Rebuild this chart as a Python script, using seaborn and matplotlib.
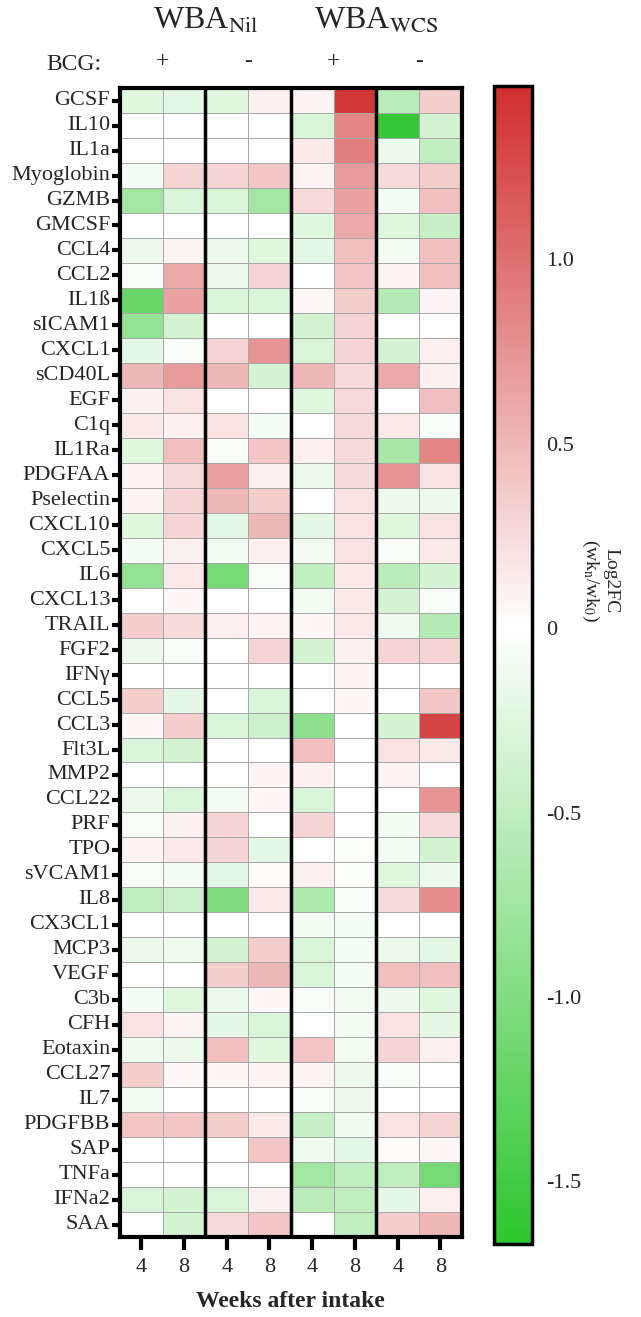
import numpy as np
import pandas as pd
import matplotlib
matplotlib.use("Agg")
import matplotlib.pyplot as plt
import matplotlib.transforms as mtransforms
from matplotlib.colors import LinearSegmentedColormap
import seaborn as sns

# analytes, top to bottom
analytes = ["GCSF", "IL10", "IL1a", "Myoglobin", "GZMB", "GMCSF", "CCL4", "CCL2", "IL1ß",
            "sICAM1", "CXCL1", "sCD40L", "EGF", "C1q", "IL1Ra", "PDGFAA", "Pselectin",
            "CXCL10", "CXCL5", "IL6", "CXCL13", "TRAIL", "FGF2", "IFNγ", "CCL5", "CCL3",
            "Flt3L", "MMP2", "CCL22", "PRF", "TPO", "sVCAM1", "IL8", "CX3CL1", "MCP3",
            "VEGF", "C3b", "CFH", "Eotaxin", "CCL27", "IL7", "PDGFBB", "SAP", "TNFa",
            "IFNa2", "SAA"]

weeks = ["4", "8", "4", "8", "4", "8", "4", "8"]
bcg = ["+", "-", "+", "-"]

# log2FC values per column
nil_pos_wk4 = [-0.25, 0, 0, -0.08, -0.75, 0, -0.15, -0.05, -1.2, -0.85, -0.2, 0.5, 0.12, 0.15,
               -0.25, 0.08, 0.08, -0.25, -0.08, -0.85, 0, 0.35, -0.15, 0, 0.35, 0.05, -0.3,
               -0.02, -0.15, -0.05, 0.08, -0.05, -0.5, 0, -0.15, 0, -0.08, 0.2, -0.12, 0.35,
               -0.1, 0.4, 0, 0, -0.3, 0]
nil_pos_wk8 = [-0.2, 0, 0, 0.3, -0.3, 0, 0.08, 0.6, 0.65, -0.35, -0.05, 0.7, 0.2, 0.1, 0.45,
               0.25, 0.3, 0.3, 0.12, 0.15, 0.05, 0.25, -0.05, 0, -0.2, 0.35, -0.35, 0, -0.3,
               0.1, 0.15, -0.08, -0.4, 0, -0.12, 0, -0.25, 0.08, -0.15, 0.05, 0, 0.4, 0, 0,
               -0.35, -0.35]
nil_neg_wk4 = [-0.25, 0, 0, 0.3, -0.3, 0, -0.15, -0.15, -0.3, 0, 0.3, 0.5, 0, 0.2, -0.05,
               0.65, 0.5, -0.2, -0.1, -1.1, 0, 0.1, 0, 0, 0, -0.3, 0, 0, -0.08, 0.3, 0.3,
               -0.2, -1.0, 0, -0.35, 0.35, -0.15, -0.2, 0.45, 0.05, 0, 0.35, 0, 0, -0.3, 0.25]
nil_neg_wk8 = [0.1, 0, 0, 0.4, -0.75, 0, -0.25, 0.3, -0.3, 0, 0.75, -0.35, 0, -0.08, 0.4,
               0.12, 0.35, 0.5, 0.12, -0.05, 0, 0.08, 0.3, 0, -0.3, -0.4, 0, 0.08, 0.05, 0,
               -0.2, 0.03, 0.15, 0, 0.35, 0.5, 0.05, -0.3, -0.25, 0.08, 0, 0.15, 0.4, 0, 0.1,
               0.4]
wcs_pos_wk4 = [0.08, -0.3, 0.15, 0.08, 0.25, -0.25, -0.2, -0.02, 0.06, -0.35, -0.3, 0.5,
               -0.25, 0, 0.1, -0.15, 0, -0.2, -0.1, -0.5, -0.1, 0.05, -0.35, 0, 0, -0.9,
               0.45, 0.1, -0.3, 0.3, 0, 0.1, -0.65, -0.1, -0.3, -0.3, -0.05, 0, 0.4, 0.08,
               -0.05, -0.45, -0.12, -0.75, -0.55, 0]
wcs_pos_wk8 = [1.4, 0.85, 0.9, 0.7, 0.65, 0.6, 0.45, 0.4, 0.35, 0.3, 0.3, 0.25, 0.25, 0.25,
               0.25, 0.25, 0.2, 0.2, 0.2, 0.15, 0.15, 0.15, 0.1, 0.08, 0.05, 0, 0, 0, 0, 0,
               -0.03, -0.03, -0.05, -0.08, -0.08, -0.08, -0.1, -0.1, -0.1, -0.15, -0.15,
               -0.12, -0.2, -0.5, -0.5, -0.5]
wcs_neg_wk4 = [-0.55, -1.6, -0.15, 0.25, -0.08, -0.25, -0.1, 0.08, -0.6, 0, -0.35, 0.6, 0,
               0.15, -0.7, 0.75, -0.15, -0.25, -0.05, -0.55, -0.35, -0.12, 0.3, 0, 0, -0.35,
               0.2, 0.08, 0, -0.1, -0.1, -0.25, 0.25, 0, -0.15, 0.45, -0.15, 0.2, 0.3, -0.05,
               0, 0.2, 0.03, -0.5, -0.2, 0.35]
wcs_neg_wk8 = [0.35, -0.35, -0.5, 0.35, 0.45, -0.45, 0.45, 0.45, 0.08, 0, 0.12, 0.1, 0.45,
               -0.05, 0.85, 0.2, -0.15, 0.2, 0.15, -0.35, -0.05, -0.6, 0.3, 0, 0.4, 1.3, 0.15,
               0, 0.75, 0.25, -0.35, -0.15, 0.8, 0, -0.2, 0.45, -0.25, -0.2, 0.12, 0, 0, 0.3,
               0.05, -1.1, 0.12, 0.5]

df = pd.DataFrame({
    "nil_pos_4": nil_pos_wk4, "nil_pos_8": nil_pos_wk8,
    "nil_neg_4": nil_neg_wk4, "nil_neg_8": nil_neg_wk8,
    "wcs_pos_4": wcs_pos_wk4, "wcs_pos_8": wcs_pos_wk8,
    "wcs_neg_4": wcs_neg_wk4, "wcs_neg_8": wcs_neg_wk8,
}, index=analytes)

vmin, vmax = -1.67, 1.47
mid = -vmin / (vmax - vmin)
cmap = LinearSegmentedColormap.from_list(
    "gwr", [(0, "#2ec62e"), (mid, "#ffffff"), (1, "#d02e2e")])

sns.set_theme(style="white")
plt.rcParams["font.family"] = ["Liberation Serif", "DejaVu Serif"]
plt.rcParams["mathtext.fontset"] = "stix"

fig = plt.figure(figsize=(6.41, 13.17), dpi=100)
ax = fig.add_axes([0.187, 0.0607, 0.5335, 0.8724])
cax = fig.add_axes([0.7707, 0.0554, 0.0593, 0.8793])

sns.heatmap(df, ax=ax, cbar_ax=cax, cmap=cmap, vmin=vmin, vmax=vmax,
            linewidths=0.6, linecolor="#a8a8a8",
            xticklabels=weeks, yticklabels=analytes)

# frame and group separators
for s in ax.spines.values():
    s.set_visible(True)
    s.set_linewidth(3)
    s.set_color("black")
for x in [2, 4, 6]:
    ax.axvline(x, color="black", lw=2.5)

ax.tick_params(axis="y", length=6, width=3, color="black", labelsize=16, pad=1, left=True)
ax.tick_params(axis="x", length=9, width=3, color="black", labelsize=16, pad=6, bottom=True)
plt.setp(ax.get_xticklabels(), rotation=0)
plt.setp(ax.get_yticklabels(), rotation=0)
ax.set_xlabel("Weeks after intake", fontsize=17, fontweight="bold", labelpad=10)
ax.set_ylabel("")

# headers
trans = mtransforms.blended_transform_factory(ax.transData, fig.transFigure)
ax.text(2, 0.978, r"WBA$_{\mathrm{Nil}}$", transform=trans, ha="center", va="baseline", fontsize=23)
ax.text(6, 0.978, r"WBA$_{\mathrm{WCS}}$", transform=trans, ha="center", va="baseline", fontsize=23)
fig.text(0.072, 0.951, "BCG:", ha="left", va="center", fontsize=17)
for i, sign in enumerate(bcg):
    ax.text(2 * i + 1, 0.953, sign, transform=trans, ha="center", va="center", fontsize=17)

# colorbar
cbar = ax.collections[0].colorbar
cbar.set_ticks([1.0, 0.5, 0, -0.5, -1.0, -1.5])
cbar.set_ticklabels(["1.0", "0.5", "0", "-0.5", "-1.0", "-1.5"])
cbar.outline.set_visible(True)
cbar.outline.set_linewidth(2.5)
cbar.outline.set_edgecolor("black")
cax.tick_params(length=7, width=2, direction="in", labelsize=16, pad=10, left=True, right=True)
cax.text(2.78, 0.573, "Log2FC\n(wk$_\\mathrm{n}$/wk$_\\mathrm{0}$)", transform=cax.transAxes,
         rotation=270, ha="center", va="center", fontsize=14, linespacing=1.1)

fig.savefig("out.png", dpi=100)
